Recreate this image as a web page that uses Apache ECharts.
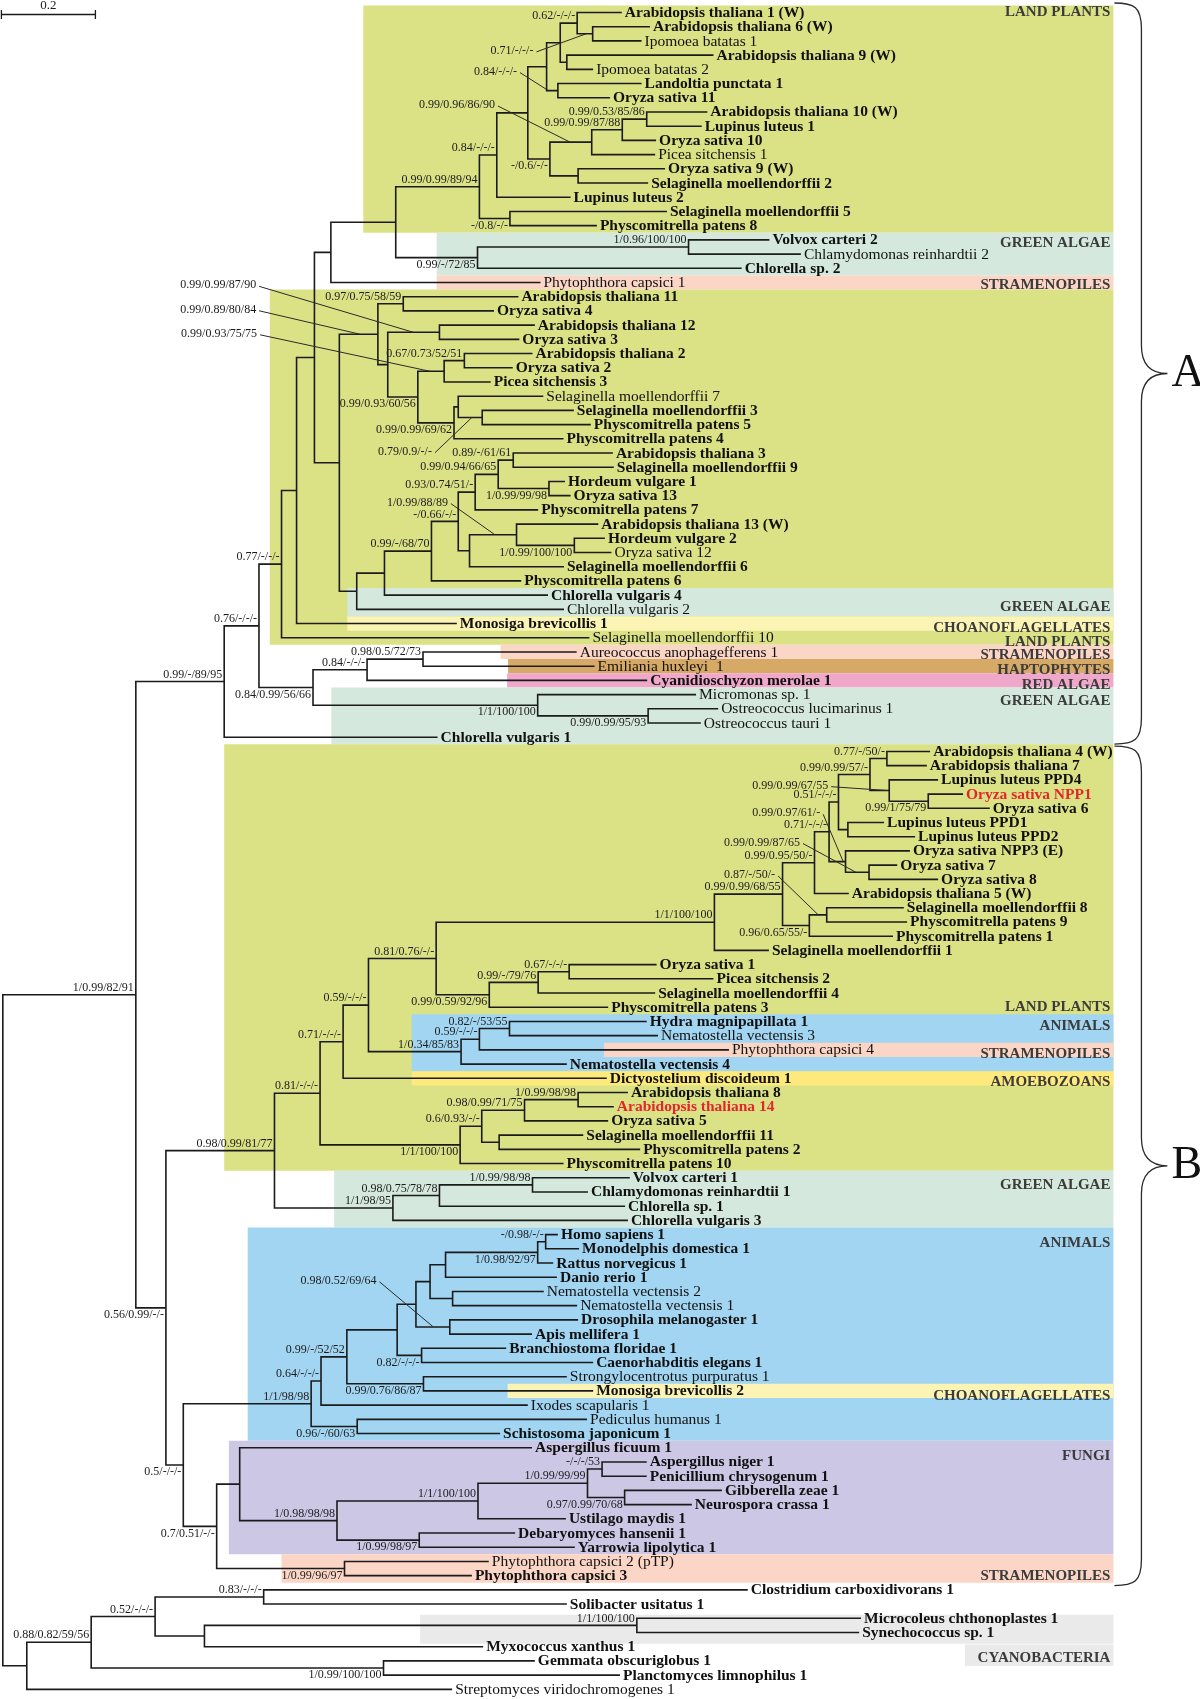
<!DOCTYPE html>
<html>
<head>
<meta charset="utf-8">
<script src="https://cdn.jsdelivr.net/npm/echarts@6.0.0/dist/echarts.min.js"></script>
<style>
  html, body { margin: 0; padding: 0; background: #fff; }
  #tree { width: 1200px; height: 1699px; }
</style>
</head>
<body>
<div id="tree"></div>
<script>
// leaves, top to bottom (row = index + 1)
var leafNames = [
  "Arabidopsis thaliana 1 (W)", "Arabidopsis thaliana 6 (W)", "Ipomoea batatas 1", "Arabidopsis thaliana 9 (W)",
  "Ipomoea batatas 2", "Landoltia punctata 1", "Oryza sativa 11", "Arabidopsis thaliana 10 (W)",
  "Lupinus luteus 1", "Oryza sativa 10", "Picea sitchensis 1", "Oryza sativa 9 (W)",
  "Selaginella moellendorffii 2", "Lupinus luteus 2", "Selaginella moellendorffii 5", "Physcomitrella patens 8",
  "Volvox carteri 2", "Chlamydomonas reinhardtii 2", "Chlorella sp. 2", "Phytophthora capsici 1",
  "Arabidopsis thaliana 11", "Oryza sativa 4", "Arabidopsis thaliana 12", "Oryza sativa 3",
  "Arabidopsis thaliana 2", "Oryza sativa 2", "Picea sitchensis 3", "Selaginella moellendorffii 7",
  "Selaginella moellendorffii 3", "Physcomitrella patens 5", "Physcomitrella patens 4", "Arabidopsis thaliana 3",
  "Selaginella moellendorffii 9", "Hordeum vulgare 1", "Oryza sativa 13", "Physcomitrella patens 7",
  "Arabidopsis thaliana 13 (W)", "Hordeum vulgare 2", "Oryza sativa 12", "Selaginella moellendorffii 6",
  "Physcomitrella patens 6", "Chlorella vulgaris 4", "Chlorella vulgaris 2", "Monosiga brevicollis 1",
  "Selaginella moellendorffii 10", "Aureococcus anophagefferens 1", "Emiliania huxleyi  1", "Cyanidioschyzon merolae 1",
  "Micromonas sp. 1", "Ostreococcus lucimarinus 1", "Ostreococcus tauri 1", "Chlorella vulgaris 1",
  "Arabidopsis thaliana 4 (W)", "Arabidopsis thaliana 7", "Lupinus luteus PPD4", "Oryza sativa NPP1",
  "Oryza sativa 6", "Lupinus luteus PPD1", "Lupinus luteus PPD2", "Oryza sativa NPP3 (E)",
  "Oryza sativa 7", "Oryza sativa 8", "Arabidopsis thaliana 5 (W)", "Selaginella moellendorffii 8",
  "Physcomitrella patens 9", "Physcomitrella patens 1", "Selaginella moellendorffii 1", "Oryza sativa 1",
  "Picea sitchensis 2", "Selaginella moellendorffii 4", "Physcomitrella patens 3", "Hydra magnipapillata 1",
  "Nematostella vectensis 3", "Phytophthora capsici 4", "Nematostella vectensis 4", "Dictyostelium discoideum 1",
  "Arabidopsis thaliana 8", "Arabidopsis thaliana 14", "Oryza sativa 5", "Selaginella moellendorffii 11",
  "Physcomitrella patens 2", "Physcomitrella patens 10", "Volvox carteri 1", "Chlamydomonas reinhardtii 1",
  "Chlorella sp. 1", "Chlorella vulgaris 3", "Homo sapiens 1", "Monodelphis domestica 1",
  "Rattus norvegicus 1", "Danio rerio 1", "Nematostella vectensis 2", "Nematostella vectensis 1",
  "Drosophila melanogaster 1", "Apis mellifera 1", "Branchiostoma floridae 1", "Caenorhabditis elegans 1",
  "Strongylocentrotus purpuratus 1", "Monosiga brevicollis 2", "Ixodes scapularis 1", "Pediculus humanus 1",
  "Schistosoma japonicum 1", "Aspergillus ficuum 1", "Aspergillus niger 1", "Penicillium chrysogenum 1",
  "Gibberella zeae 1", "Neurospora crassa 1", "Ustilago maydis 1", "Debaryomyces hansenii 1",
  "Yarrowia lipolytica 1", "Phytophthora capsici 2 (pTP)", "Phytophthora capsici 3", "Clostridium carboxidivorans 1",
  "Solibacter usitatus 1", "Microcoleus chthonoplastes 1", "Synechococcus sp. 1", "Myxococcus xanthus 1",
  "Gemmata obscuriglobus 1", "Planctomyces limnophilus 1", "Streptomyces viridochromogenes 1"
];

// distance of each leaf tip from the root (substitutions per site)
var leafDepth = [
  1.323, 1.383, 1.365, 1.518, 1.262, 1.365, 1.298, 1.505, 1.493, 1.396,
  1.394, 1.415, 1.379, 1.214, 1.419, 1.270, 1.637, 1.704, 1.578, 1.150,
  1.103, 1.051, 1.138, 1.105, 1.133, 1.091, 1.044, 1.156, 1.221, 1.257,
  1.199, 1.304, 1.306, 1.202, 1.214, 1.145, 1.273, 1.287, 1.301, 1.200,
  1.109, 1.166, 1.200, 0.972, 1.254, 1.227, 1.265, 1.377, 1.481, 1.528,
  1.491, 0.931, 1.979, 1.972, 1.996, 2.049, 2.106, 1.881, 1.947, 1.936,
  1.909, 1.996, 1.806, 1.923, 1.930, 1.900, 1.636, 1.397, 1.518, 1.394,
  1.294, 1.376, 1.400, 1.551, 1.206, 1.291, 1.336, 1.306, 1.294, 1.241,
  1.362, 1.199, 1.340, 1.251, 1.330, 1.336, 1.187, 1.232, 1.177, 1.185,
  1.157, 1.228, 1.230, 1.132, 1.077, 1.262, 1.206, 1.262, 1.123, 1.249,
  1.064, 1.132, 1.376, 1.376, 1.536, 1.472, 1.204, 1.096, 1.223, 1.040,
  1.004, 1.591, 1.206, 1.832, 1.828, 1.028, 1.138, 1.319, 0.962
];

var regularLeaves = [3, 5, 11, 18, 20, 28, 39, 43, 45, 46, 47, 49, 50, 51, 73, 74, 91, 92, 97, 99, 100, 110, 119];
var redLeaves = [56, 78];

// topology: [nodeId, child, child], numbers are leaf rows
var topology = ["root",
  ["ee",
    ["dd",
      ["cc",
        ["l",
          ["j",
            ["h",
              ["g",
                ["f",
                  ["e",
                    ["d",
                      ["b",
                        ["U", ["P", ["a", 1, ["a1", 2, 3]], ["a2", 4, 5]], ["a3", 6, 7]],
                        ["c", ["a6", ["a5", ["a4", 8, 9], 10], 11], ["a7", 12, 13]]],
                      14],
                    ["a8", 15, 16]],
                  ["GA", ["a9", 17, 18], 19]],
                20],
              ["i",
                ["k", ["m", 21, 22], ["n", ["o", 23, 24], ["p", ["q", ["s", 25, 26], 27], ["r", ["t", 28, ["u", 29, 30]], 31]]]],
                ["v", ["w", ["x1",
                  ["y1", ["z1", ["z5", ["z6", 32, 33], ["z7", 34, 35]], 36], ["z2", ["z3", 37, ["z4", 38, 39]], 40]],
                  41], 42], 43]]],
            44],
          45],
        ["bb", ["aa", ["ae", 46, 47], 48], ["mi", 49, ["om", 50, 51]]]],
      52],
    ["ff",
      ["gg",
        ["ii",
          ["mm",
            ["oo",
              ["pp",
                ["rr",
                  ["vv",
                    ["ww",
                      ["D1",
                        ["C1", ["B1", ["B0", 53, 54], ["B2", 55, ["B3", 56, 57]]], ["PP", 58, 59]],
                        ["N3", 60, ["O78", 61, 62]]],
                      63],
                    ["xx", ["yy", 64, 65], 66]],
                  67],
                ["ss", ["tt", ["uu", 68, 69], 70], 71]],
              ["qq", ["hp", ["hn", 72, 73], 74], 75]],
            76],
          ["nn", ["B4", ["B5", ["B7", 77, 78], 79], ["B6", 80, 81]], 82]],
        ["jj", ["kk", ["ll", 83, 84], 85], 86]],
      ["hh",
        ["AN0",
          ["AN1",
            ["AN3",
              ["AN4",
                ["AN6", ["AN8", ["AN10", ["AN12", ["AN13", 87, 88], 89], 90], ["AN11", 91, 92]], ["AN9", 93, 94]],
                ["AN7", 95, 96]],
              ["AN5", 97, 98]],
            99],
          ["AN2", 100, 101]],
        ["FP",
          ["F0", 102, ["F1", ["F2", ["F4", ["F5", 103, 104], ["F6", 105, 106]], 107], ["F3", 108, 109]]],
          ["PH", 110, 111]]]]],
  ["R2", ["R3", ["O2", ["O1", 112, 113], ["O3", ["CY", 114, 115], 116]], ["GP", 117, 118]], 119]];

// distance of each internal node from the root
var nodeDepth = {
  root: 0.006, ee: 0.289, dd: 0.477, cc: 0.551, l: 0.599, j: 0.631, h: 0.669, g: 0.704, f: 0.842,
  e: 1.020, d: 1.057, b: 1.123, U: 1.163, P: 1.192, a: 1.228, a1: 1.261, a2: 1.206, a3: 1.187,
  c: 1.170, a6: 1.259, a5: 1.324, a4: 1.376, a7: 1.230, a8: 1.085, GA: 1.016, a9: 1.465,
  i: 0.722, k: 0.804, m: 0.858, n: 0.825, o: 0.935, p: 0.889, q: 0.945, s: 0.988, r: 0.966, t: 0.975, u: 1.026,
  v: 0.759, w: 0.818, x1: 0.918, y1: 0.975, z1: 1.011, z5: 1.060, z6: 1.092, z7: 1.168, z2: 0.999, z3: 1.099, z4: 1.222,
  bb: 0.666, aa: 0.781, ae: 0.900, mi: 1.144, om: 1.379,
  ff: 0.353, gg: 0.584, ii: 0.681, mm: 0.730, oo: 0.784, pp: 0.928, rr: 1.520, vv: 1.665, ww: 1.733,
  D1: 1.764, C1: 1.784, B1: 1.851, B0: 1.887, B2: 1.892, B3: 1.975, PP: 1.804, N3: 1.799, O78: 1.849,
  xx: 1.722, yy: 1.759, ss: 1.041, tt: 1.145, uu: 1.211, qq: 0.981, hp: 1.020, hn: 1.084,
  nn: 0.979, B4: 1.025, B5: 1.116, B7: 1.230, B6: 1.062, jj: 0.836, kk: 0.935, ll: 1.133,
  hh: 0.390, AN0: 0.662, AN1: 0.683, AN3: 0.738, AN4: 0.845, AN6: 0.885, AN8: 0.915, AN10: 0.948,
  AN12: 1.144, AN13: 1.161, AN11: 0.963, AN9: 0.957, AN7: 0.897, AN5: 0.901, AN2: 0.760,
  FP: 0.461, F0: 0.510, F1: 0.717, F2: 1.017, F4: 1.250, F5: 1.281, F6: 1.329, F3: 0.892, PH: 0.733,
  R2: 0.057, R3: 0.194, O2: 0.330, O1: 0.561, O3: 0.435, CY: 1.355, GP: 0.816
};

// support values (PP MrBayes / PP PhyloBayes / ML / NJ)
var support = {
  a: "0.62/-/-/-", a1: "0.71/-/-/-", a3: "0.84/-/-/-", a4: "0.99/0.53/85/86", a5: "0.99/0.99/87/88",
  a6: "0.99/0.96/86/90", c: "-/0.6/-/-", d: "0.84/-/-/-", a8: "-/0.8/-/-", e: "0.99/0.99/89/94",
  a9: "1/0.96/100/100", GA: "0.99/-/72/85",
  m: "0.97/0.75/58/59", o: "0.99/0.99/87/90", s: "0.67/0.73/52/51", q: "0.99/0.93/75/75", u: "0.79/0.9/-/-",
  r: "0.99/0.99/69/62", p: "0.99/0.93/60/56", k: "0.99/0.89/80/84",
  z6: "0.89/-/61/61", z7: "1/0.99/99/98", z5: "0.99/0.94/66/65", z1: "0.93/0.74/51/-", z4: "1/0.99/100/100",
  z3: "1/0.99/88/89", y1: "-/0.66/-/-", x1: "0.99/-/68/70",
  l: "0.77/-/-/-", ae: "0.98/0.5/72/73", aa: "0.84/-/-/-", om: "0.99/0.99/95/93", mi: "1/1/100/100",
  bb: "0.84/0.99/56/66", cc: "0.76/-/-/-", dd: "0.99/-/89/95", ee: "1/0.99/82/91",
  B0: "0.77/-/50/-", B3: "0.99/1/75/79", B2: "0.99/0.99/67/55", B1: "0.99/0.99/57/-", C1: "0.51/-/-/-",
  O78: "0.99/0.99/87/65", N3: "0.99/0.97/61/-", D1: "0.71/-/-/-", ww: "0.99/0.95/50/-", yy: "0.87/-/50/-",
  xx: "0.96/0.65/55/-", vv: "0.99/0.99/68/55", rr: "1/1/100/100",
  uu: "0.67/-/-/-", tt: "0.99/-/79/76", ss: "0.99/0.59/92/96", pp: "0.81/0.76/-/-", hn: "0.82/-/53/55",
  hp: "0.59/-/-/-", qq: "1/0.34/85/83", oo: "0.59/-/-/-", mm: "0.71/-/-/-",
  B7: "1/0.99/98/98", B5: "0.98/0.99/71/75", B4: "0.6/0.93/-/-", nn: "1/1/100/100", ii: "0.81/-/-/-",
  ll: "1/0.99/98/98", kk: "0.98/0.75/78/78", jj: "1/1/98/95", gg: "0.98/0.99/81/77", ff: "0.56/0.99/-/-",
  AN13: "-/0.98/-/-", AN12: "1/0.98/92/97", AN9: "0.98/0.52/69/64", AN7: "0.82/-/-/-", AN5: "0.99/0.76/86/87",
  AN3: "0.99/-/52/52", AN1: "0.64/-/-/-", AN2: "0.96/-/60/63", AN0: "1/1/98/98",
  F5: "-/-/-/53", F6: "0.97/0.99/70/68", F4: "1/0.99/99/99", F2: "1/1/100/100", F3: "1/0.99/98/97",
  F1: "1/0.98/98/98", PH: "1/0.99/96/97", FP: "0.7/0.51/-/-", hh: "0.5/-/-/-",
  O1: "0.83/-/-/-", CY: "1/1/100/100", O2: "0.52/-/-/-", GP: "1/0.99/100/100", R3: "0.88/0.82/59/56"
};
var belowLabels = ["c", "a8", "GA", "z7", "z4", "r", "p", "om", "mi", "bb", "B3", "xx", "ss", "nn",
  "AN12", "AN7", "AN5", "AN2", "F6", "F3", "PH", "FP", "hh", "ff", "GP"];
// labels set aside with a leader: [node, text right end (depth), text row, leader end (depth)]
var pointerLabels = [
  ["a1", 1.135, 3.70, 1.247], ["a3", 1.100, 5.16, 1.167], ["a6", 1.053, 7.51, 1.213],
  ["o", 0.545, 20.20, 0.879], ["k", 0.545, 21.92, 0.766], ["q", 0.547, 23.61, 0.915],
  ["u", 0.919, 31.91, 1.004], ["z3", 0.953, 35.49, 1.053], ["B2", 1.762, 55.41, 1.889],
  ["N3", 1.745, 57.35, 1.794], ["O78", 1.702, 59.41, 1.821], ["yy", 1.649, 61.69, 1.741],
  ["AN9", 0.801, 90.25, 0.922]
];

// coloured groups: leaf rows covered, left edge (depth), group
var bandRows = [[1, 16], [17, 19], [20, 20], [21, 45], [42, 43], [44, 44], [46, 46], [47, 47], [48, 48],
  [49, 52], [53, 82], [72, 75], [74, 74], [76, 76], [83, 86], [87, 101], [98, 98], [102, 109],
  [110, 111], [114.25, 115.3], [116.35, 116.85]];
var bandStart = [0.773, 0.929, 0.929, 0.574, 0.739, 0.739, 1.065, 1.081, 1.079, 0.705, 0.477, 0.876,
  1.285, 0.876, 0.711, 0.527, 1.080, 0.487, 0.599, 0.894, 2.053];
var bandKind = ["LP", "GA", "ST", "LP", "GA", "CH", "ST", "HA", "RA", "GA", "LP", "AN", "ST", "AM",
  "GA", "AN", "CH", "FU", "ST", "CY", "CY"];
var kindColor = {
  LP: "#dbe286", GA: "#d5e8dd", ST: "#fbd6c6", CH: "#fcf4b4", HA: "#d6aa66", RA: "#f0a8ca",
  AN: "#a2d5f2", AM: "#fde97c", FU: "#cdc7e6", CY: "#eaeaea"
};
var bandEnd = 2.369;

var groupLabels = ["LAND PLANTS", "GREEN ALGAE", "STRAMENOPILES", "GREEN ALGAE", "CHOANOFLAGELLATES",
  "LAND PLANTS", "STRAMENOPILES", "HAPTOPHYTES", "RED ALGAE", "GREEN ALGAE", "LAND PLANTS", "ANIMALS",
  "STRAMENOPILES", "AMOEBOZOANS", "GREEN ALGAE", "ANIMALS", "CHOANOFLAGELLATES", "FUNGI",
  "STRAMENOPILES", "CYANOBACTERIA"];
var groupLabelRows = [1, 17.25, 20.2, 42.85, 44.3, 45.3, 46.2, 47.3, 48.3, 49.45, 71, 72.3, 74.3,
  76.25, 83.5, 87.6, 98.35, 102.6, 111, 116.8];

var braceRows = [[0.33, 52.48], [52.62, 111.7]];
var braceLetters = ["A", "B"];

var scaleBar = 0.2;

var serif = '"Liberation Serif", "Times New Roman", serif';

// ---- lay the tree out ----
var nodes = {};
var edges = [];
function layout(t) {
  if (typeof t === "number") {
    return { d: leafDepth[t - 1], y: t };
  }
  var kids = t.slice(1).map(layout);
  var first = kids[0], last = kids[kids.length - 1];
  var n = { id: t[0], d: nodeDepth[t[0]], y: (first.y + last.y) / 2 };
  nodes[n.id] = n;
  edges.push({
    coords: [[first.d, first.y], [n.d, first.y], [n.d, last.y], [last.d, last.y]]
  });
  return n;
}
layout(topology);

var pointerIds = pointerLabels.map(function (p) { return p[0]; });
var supportKeys = Object.keys(support);
var supportData = [];
supportKeys.forEach(function (id, i) {
  if (pointerIds.indexOf(id) >= 0) return;
  var n = nodes[id];
  supportData.push([n.d, n.y, belowLabels.indexOf(id) >= 0 ? 1 : 0, i]);
});

var pointerData = pointerLabels.map(function (p, i) {
  return [p[1], p[2], p[3], nodes[p[0]].y, i];
});

var chart = echarts.init(document.getElementById("tree"));
chart.setOption({
  animation: false,
  grid: { left: 0, right: 0, top: 0, bottom: 0 },
  xAxis: { type: "value", min: 0, max: 2.5532, show: false },
  yAxis: { type: "value", min: 0.1203, max: 119.68, inverse: true, show: false },
  series: [
    {
      // coloured group bands
      type: "custom",
      silent: true,
      z: 1,
      data: bandRows.map(function (r, i) { return [bandStart[i], r[0], r[1], i]; }),
      renderItem: function (params, api) {
        var i = api.value(3);
        var p1 = api.coord([api.value(0), api.value(1) - 0.5]);
        var p2 = api.coord([bandEnd, api.value(2) + 0.5]);
        return {
          type: "rect",
          shape: { x: p1[0], y: p1[1], width: p2[0] - p1[0], height: p2[1] - p1[1] },
          style: { fill: kindColor[bandKind[i]] }
        };
      }
    },
    {
      // group names on the right
      type: "custom",
      silent: true,
      z: 2,
      data: groupLabelRows.map(function (r, i) { return [bandEnd, r, i]; }),
      renderItem: function (params, api) {
        var p = api.coord([api.value(0), api.value(1)]);
        return {
          type: "text",
          x: p[0] - 3,
          y: p[1],
          style: {
            text: groupLabels[api.value(2)], fill: "#3b3b3b", fontFamily: serif,
            fontSize: 15, fontWeight: "bold", align: "right", verticalAlign: "middle"
          }
        };
      }
    },
    {
      // branches
      type: "lines",
      coordinateSystem: "cartesian2d",
      polyline: true,
      silent: true,
      z: 3,
      data: edges,
      lineStyle: { color: "#1b1b1b", width: 1.6, opacity: 1 }
    },
    {
      // leaf names
      type: "custom",
      silent: true,
      z: 4,
      data: leafDepth.map(function (d, i) { return [d, i + 1, i]; }),
      renderItem: function (params, api) {
        var i = api.value(2);
        var p = api.coord([api.value(0), api.value(1)]);
        var row = i + 1;
        return {
          type: "text",
          x: p[0] + 3,
          y: p[1] + 0.5,
          style: {
            text: leafNames[i],
            fill: redLeaves.indexOf(row) >= 0 ? "#e3262b" : "#111",
            fontFamily: serif,
            fontSize: 15.5,
            fontWeight: regularLeaves.indexOf(row) >= 0 ? "normal" : "bold",
            align: "left",
            verticalAlign: "middle"
          }
        };
      }
    },
    {
      // support values next to their node
      type: "custom",
      silent: true,
      z: 4,
      data: supportData,
      renderItem: function (params, api) {
        var p = api.coord([api.value(0), api.value(1)]);
        var below = api.value(2) === 1;
        return {
          type: "text",
          x: p[0] - 2,
          y: below ? p[1] + 1 : p[1] - 1,
          style: {
            text: support[supportKeys[api.value(3)]], fill: "#1b1b1b", fontFamily: serif,
            fontSize: 12, align: "right", verticalAlign: below ? "top" : "bottom"
          }
        };
      }
    },
    {
      // support values with leader lines
      type: "custom",
      silent: true,
      z: 4,
      data: pointerData,
      renderItem: function (params, api) {
        var i = api.value(4);
        var t = api.coord([api.value(0), api.value(1)]);
        var e = api.coord([api.value(2), api.value(3)]);
        return {
          type: "group",
          children: [
            {
              type: "line",
              shape: { x1: t[0] + 3, y1: t[1] + 1, x2: e[0], y2: e[1] },
              style: { stroke: "#2a2a2a", lineWidth: 1 }
            },
            {
              type: "text",
              x: t[0],
              y: t[1],
              style: {
                text: support[pointerLabels[i][0]], fill: "#1b1b1b", fontFamily: serif,
                fontSize: 12, align: "right", verticalAlign: "middle"
              }
            }
          ]
        };
      }
    },
    {
      // braces A and B
      type: "custom",
      silent: true,
      z: 4,
      data: braceRows.map(function (r, i) { return [bandEnd, r[0], r[1], i]; }),
      renderItem: function (params, api) {
        var top = api.coord([api.value(0), api.value(1)]);
        var bot = api.coord([api.value(0), api.value(2)]);
        var x0 = top[0] + 1, xv = x0 + 27, xt = x0 + 53;
        var y1 = top[1], y2 = bot[1], ym = (y1 + y2) / 2;
        var d = "M" + x0 + " " + y1 +
          " C" + (x0 + 20) + " " + y1 + " " + xv + " " + (y1 + 4) + " " + xv + " " + (y1 + 26) +
          " L" + xv + " " + (ym - 28) +
          " C" + xv + " " + (ym - 8) + " " + (xv + 10) + " " + ym + " " + xt + " " + ym +
          " C" + (xv + 10) + " " + ym + " " + xv + " " + (ym + 8) + " " + xv + " " + (ym + 28) +
          " L" + xv + " " + (y2 - 26) +
          " C" + xv + " " + (y2 - 4) + " " + (x0 + 20) + " " + y2 + " " + x0 + " " + y2;
        return {
          type: "group",
          children: [
            { type: "path", shape: { pathData: d }, style: { fill: "none", stroke: "#2b2b2b", lineWidth: 1.3 } },
            {
              type: "text", x: xt + 4, y: ym,
              style: {
                text: braceLetters[api.value(3)], fill: "#111", fontFamily: serif,
                fontSize: 46, align: "left", verticalAlign: "middle"
              }
            }
          ]
        };
      }
    },
    {
      // scale bar
      type: "custom",
      silent: true,
      z: 4,
      data: [[0.003, 1.14, scaleBar]],
      renderItem: function (params, api) {
        var a = api.coord([api.value(0), api.value(1)]);
        var b = api.coord([api.value(0) + api.value(2), api.value(1)]);
        var st = { stroke: "#1b1b1b", lineWidth: 1.3 };
        return {
          type: "group",
          children: [
            { type: "line", shape: { x1: a[0], y1: a[1], x2: b[0], y2: b[1] }, style: st },
            { type: "line", shape: { x1: a[0], y1: a[1] - 4.5, x2: a[0], y2: a[1] + 4.5 }, style: st },
            { type: "line", shape: { x1: b[0], y1: b[1] - 4.5, x2: b[0], y2: b[1] + 4.5 }, style: st },
            {
              type: "text", x: (a[0] + b[0]) / 2, y: a[1] - 2,
              style: {
                text: String(api.value(2)), fill: "#1b1b1b", fontFamily: serif, fontSize: 13,
                align: "center", verticalAlign: "bottom"
              }
            }
          ]
        };
      }
    }
  ]
});
</script>
</body>
</html>
